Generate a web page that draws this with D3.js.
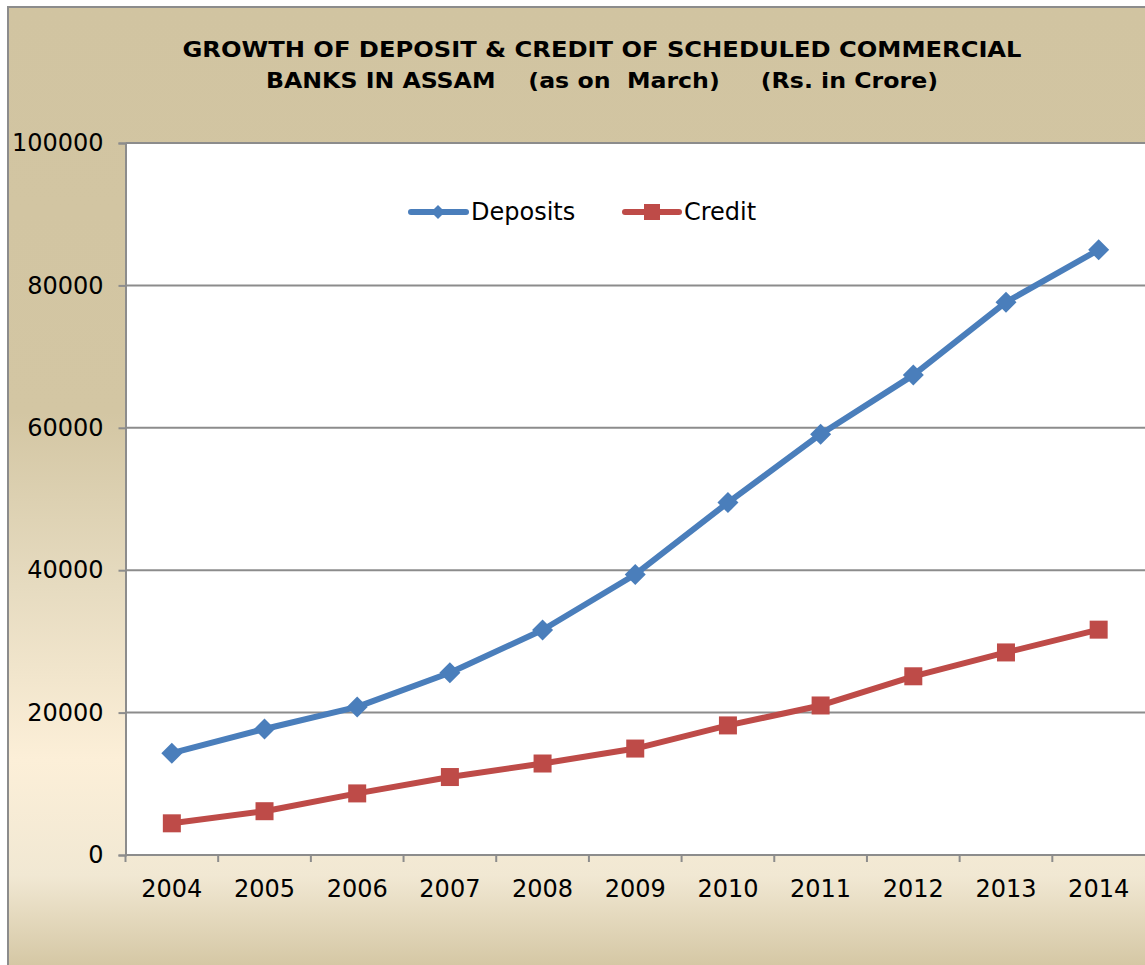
<!DOCTYPE html>
<html><head><meta charset="utf-8">
<script src="https://cdn.jsdelivr.net/npm/d3@7"></script>
<style>html,body{margin:0;padding:0;background:#fff;}svg{display:block;}</style>
</head><body>
<svg id="chart" width="1145" height="965"></svg>
<script>
const years = ["2004","2005","2006","2007","2008","2009","2010","2011","2012","2013","2014"];
const deposits = [14300, 17700, 20800, 25600, 31600, 39400, 49500, 59100, 67400, 77650, 85000];
const credit = [4450, 6150, 8650, 10950, 12850, 14950, 18200, 21000, 25100, 28450, 31650];
const yTicks = [0, 20000, 40000, 60000, 80000, 100000];
const titleLines = ["GROWTH OF DEPOSIT & CREDIT OF SCHEDULED COMMERCIAL", "BANKS IN ASSAM    (as on  March)     (Rs. in Crore)"];
const seriesNames = ["Deposits", "Credit"];

const W = 1145, H = 965;
const svg = d3.select("#chart");
const defs = svg.append("defs");
const grad = defs.append("linearGradient").attr("id","bg").attr("x1",0).attr("y1",0).attr("x2",0).attr("y2",1);
[[0,"#d1c4a1"],[0.42,"#d3c6a3"],[0.6,"#e6dbc0"],[0.78,"#fcefd8"],[0.9,"#f1e8d3"],[1,"#d3c5a1"]].forEach(s=>{
  grad.append("stop").attr("offset",s[0]).attr("stop-color",s[1]);
});
svg.append("rect").attr("x",8).attr("y",7).attr("width",W).attr("height",H)
  .attr("fill","url(#bg)").attr("stroke","#8c8c8c").attr("stroke-width",2);

const plot = {left:125.5, top:143, right:1145, bottom:855};
const x = d3.scaleBand().domain(years).range([plot.left, plot.right]);
const y = d3.scaleLinear().domain([0,100000]).range([plot.bottom, plot.top]);

svg.append("rect").attr("x",plot.left).attr("y",plot.top).attr("width",plot.right-plot.left+5).attr("height",plot.bottom-plot.top).attr("fill","#fff");

// gridlines
svg.append("g").selectAll("line").data(yTicks).join("line")
  .attr("x1",plot.left).attr("x2",W).attr("y1",d=>y(d)).attr("y2",d=>y(d))
  .attr("stroke","#8c8c8c").attr("stroke-width",2);

// y axis
const yAxis = svg.append("g").attr("transform",`translate(${plot.left},0)`)
  .call(d3.axisLeft(y).tickValues(yTicks).tickFormat(d3.format("d")).tickSize(7).tickPadding(15));
yAxis.select(".domain").attr("stroke","#8c8c8c").attr("stroke-width",2);
yAxis.selectAll(".tick line").attr("stroke","#8c8c8c").attr("stroke-width",2);
yAxis.selectAll("text").attr("font-family","DejaVu Sans").attr("font-size",24).attr("fill","#000");

// x axis
const xg = svg.append("g");
xg.append("line").attr("x1",plot.left).attr("x2",W).attr("y1",plot.bottom).attr("y2",plot.bottom)
  .attr("stroke","#8c8c8c").attr("stroke-width",2);
xg.selectAll("line.tk").data(years).join("line").attr("class","tk")
  .attr("x1",d=>x(d)).attr("x2",d=>x(d)).attr("y1",plot.bottom).attr("y2",plot.bottom+7)
  .attr("stroke","#8c8c8c").attr("stroke-width",2);
xg.selectAll("text").data(years).join("text")
  .attr("x",d=>x(d)+x.bandwidth()/2).attr("y",897)
  .attr("text-anchor","middle").attr("font-family","DejaVu Sans").attr("font-size",24).attr("fill","#000")
  .text(d=>d);

// lines
const cx = d=>x(d)+x.bandwidth()/2;
const line = d3.line().x((d,i)=>cx(years[i])).y(d=>y(d));
const colors = ["#4a7ebb","#be4b48"];
[deposits, credit].forEach((ser,k)=>{
  svg.append("path").datum(ser).attr("d",line).attr("fill","none")
    .attr("stroke",colors[k]).attr("stroke-width",6).attr("stroke-linejoin","round");
});
const diamond = s=>`M0,${-s}L${s},0L0,${s}L${-s},0Z`;
svg.append("g").selectAll("path").data(deposits).join("path")
  .attr("transform",(d,i)=>`translate(${cx(years[i])},${y(d)})`)
  .attr("d",diamond(10.5)).attr("fill",colors[0]);
svg.append("g").selectAll("rect").data(credit).join("rect")
  .attr("x",(d,i)=>cx(years[i])-9).attr("y",d=>y(d)-9).attr("width",18).attr("height",18).attr("fill",colors[1]);

// legend
const lg = svg.append("g");
lg.append("line").attr("x1",411).attr("x2",466).attr("y1",212).attr("y2",212).attr("stroke",colors[0]).attr("stroke-width",6).attr("stroke-linecap","round");
lg.append("path").attr("transform","translate(438,212)").attr("d",diamond(7)).attr("fill",colors[0]);
lg.append("text").attr("x",471).attr("y",220).attr("font-family","DejaVu Sans").attr("font-size",24).text(seriesNames[0]);
lg.append("line").attr("x1",625).attr("x2",679).attr("y1",212).attr("y2",212).attr("stroke",colors[1]).attr("stroke-width",6).attr("stroke-linecap","round");
lg.append("rect").attr("x",644).attr("y",204).attr("width",16).attr("height",16).attr("fill",colors[1]);
lg.append("text").attr("x",684).attr("y",220).attr("font-family","DejaVu Sans").attr("font-size",24).text(seriesNames[1]);

// title
const tl = [{t:titleLines[0], y:57, len:839},{t:titleLines[1], y:88, len:672}];
svg.append("g").selectAll("text").data(tl).join("text")
  .attr("x",602).attr("y",d=>d.y).attr("text-anchor","middle")
  .attr("font-family","DejaVu Sans Condensed, DejaVu Sans").style("font-stretch","condensed")
  .attr("font-weight","bold").attr("font-size",21)
  .attr("textLength",d=>d.len).attr("lengthAdjust","spacingAndGlyphs")
  .style("white-space","pre").attr("xml:space","preserve")
  .text(d=>d.t);
</script>
</body></html>
